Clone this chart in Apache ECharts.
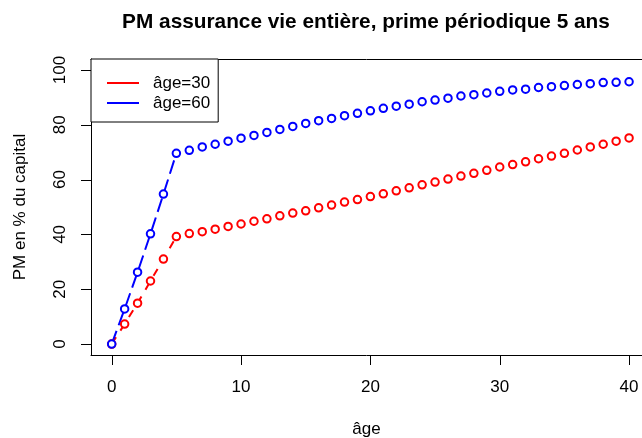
<!DOCTYPE html>
<html>
<head>
<meta charset="utf-8">
<script src="https://cdn.jsdelivr.net/npm/echarts@6/dist/echarts.min.js"></script>
<style>
  html, body { margin: 0; padding: 0; background: #fff; }
  #chart { width: 642px; height: 438px; }
</style>
</head>
<body>
<div id="chart"></div>
<script>
// Durée écoulée (années) depuis la souscription
const annees = [0, 1, 2, 3, 4, 5, 6, 7, 8, 9, 10, 11, 12, 13, 14, 15, 16, 17, 18, 19, 20,
  21, 22, 23, 24, 25, 26, 27, 28, 29, 30, 31, 32, 33, 34, 35, 36, 37, 38, 39, 40];

// Provision mathématique (% du capital), assuré de 30 ans
const pmAge30 = [0, 7.3, 14.9, 23.0, 31.0, 39.2, 40.3, 41.0, 41.9, 42.9, 43.8, 44.8, 45.7,
  46.8, 47.8, 48.6, 49.7, 50.7, 51.8, 52.7, 53.8, 54.8, 55.9, 57.0, 58.1, 59.1, 60.2,
  61.3, 62.3, 63.4, 64.6, 65.5, 66.5, 67.6, 68.6, 69.6, 70.8, 71.9, 72.9, 74.0, 75.2];

// Provision mathématique (% du capital), assuré de 60 ans
const pmAge60 = [0, 12.8, 26.2, 40.2, 54.7, 69.6, 70.7, 71.9, 72.9, 74.0, 75.1, 76.1, 77.2,
  78.3, 79.4, 80.5, 81.5, 82.3, 83.3, 84.2, 85.1, 86.0, 86.8, 87.5, 88.4, 89.0, 89.7,
  90.5, 91.0, 91.6, 92.2, 92.7, 93.0, 93.6, 93.9, 94.3, 94.7, 95.0, 95.4, 95.5, 95.7];

const xTicks = [0, 10, 20, 30, 40];
const yTicks = [0, 20, 40, 60, 80, 100];
const dureePrimes = 5; // années de paiement des primes

const titre = 'PM assurance vie entière, prime périodique 5 ans';
const nomsSeries = ['âge=30', 'âge=60'];
const couleurs = ['#ff0000', '#0000ff'];
const tirets = [[8, 8], [14, 6]];

const font = '"Liberation Sans", Arial, Helvetica, sans-serif';
const paires = (ys) => annees.map((a, i) => [a, ys[i]]);

// étendue des axes (marge de 4 % autour des données ; le cadre déborde à droite)
const xMin = -1.6, xMax = 41.0;
const yMin = -4, yMax = 104;
const longueurTrait = 10;

const series = [];
[pmAge30, pmAge60].forEach((ys, k) => {
  // segments reliant les points pendant la période de paiement des primes
  series.push({
    type: 'line',
    name: nomsSeries[k],
    data: paires(ys).slice(0, dureePrimes + 1),
    showSymbol: false,
    lineStyle: { color: couleurs[k], width: 2, type: tirets[k] },
    itemStyle: { color: couleurs[k] },
    z: 2,
    silent: true,
    animation: false
  });
  // cercles ouverts pour chaque année
  series.push({
    type: 'scatter',
    name: nomsSeries[k],
    data: paires(ys),
    symbol: 'circle',
    symbolSize: 7.5,
    itemStyle: { color: '#ffffff', borderColor: couleurs[k], borderWidth: 2, opacity: 1 },
    z: 3,
    clip: false,
    silent: true,
    animation: false
  });
});

const axeCommun = () => ({
  axisLine: { show: true, onZero: false, lineStyle: { color: '#000', width: 1 } },
  axisTick: { show: false },
  splitLine: { show: false }
});

const chart = echarts.init(document.getElementById('chart'), null, { renderer: 'canvas' });
chart.setOption({
  backgroundColor: '#ffffff',
  animation: false,
  title: {
    text: titre,
    left: 361,
    textAlign: 'center',
    top: 7,
    textStyle: { fontFamily: font, fontSize: 20.8, fontWeight: 'bold', color: '#000' }
  },
  legend: {
    orient: 'vertical',
    left: 91,
    top: 59,
    padding: [14, 8, 9, 16],
    itemGap: 0,
    itemWidth: 32,
    itemHeight: 2,
    backgroundColor: '#ffffff',
    borderColor: '#000000',
    borderWidth: 1,
    borderRadius: 0,
    data: nomsSeries.map((n) => ({ name: n, icon: 'rect' })),
    textStyle: { fontFamily: font, fontSize: 17, color: '#000', lineHeight: 20, padding: [0, 0, 0, 9] },
    selectedMode: false,
    z: 10
  },
  grid: {
    left: 91,
    top: 59,
    right: 0,
    bottom: 83,
    show: false,
    outerBoundsMode: 'none'
  },
  xAxis: [
    Object.assign({
      type: 'value',
      min: xMin,
      max: xMax,
      name: 'âge',
      nameLocation: 'middle',
      nameGap: 66,
      nameTextStyle: { fontFamily: font, fontSize: 17, color: '#000' },
      axisLabel: { customValues: xTicks, margin: 24, fontFamily: font, fontSize: 17, color: '#000' }
    }, axeCommun()),
    {
      // bord supérieur du cadre
      type: 'value',
      position: 'top',
      min: xMin,
      max: xMax,
      axisLine: { show: true, onZero: false, lineStyle: { color: '#000', width: 1 } },
      axisTick: { show: false },
      axisLabel: { show: false },
      splitLine: { show: false }
    }
  ],
  yAxis: Object.assign({
    type: 'value',
    min: yMin,
    max: yMax,
    name: 'PM en % du capital',
    nameLocation: 'middle',
    nameGap: 62,
    nameTextStyle: { fontFamily: font, fontSize: 17, color: '#000' },
    axisLabel: { customValues: yTicks, rotate: 90, margin: 22, fontFamily: font, fontSize: 17, color: '#000' }
  }, axeCommun()),
  series: series
});

// graduations extérieures, placées à partir des échelles des axes
const coinBas = chart.convertToPixel({ gridIndex: 0 }, [xMin, yMin]);
const traits = [];
xTicks.forEach((v) => {
  const p = chart.convertToPixel({ gridIndex: 0 }, [v, yMin]);
  const px = Math.round(p[0]) + 0.5;
  traits.push({
    type: 'line', silent: true, z: 100,
    shape: { x1: px, y1: coinBas[1], x2: px, y2: coinBas[1] + longueurTrait },
    style: { stroke: '#000000', lineWidth: 1 }
  });
});
yTicks.forEach((v) => {
  const p = chart.convertToPixel({ gridIndex: 0 }, [xMin, v]);
  const py = Math.round(p[1]) + 0.5;
  traits.push({
    type: 'line', silent: true, z: 100,
    shape: { x1: coinBas[0] - longueurTrait, y1: py, x2: coinBas[0], y2: py },
    style: { stroke: '#000000', lineWidth: 1 }
  });
});
chart.setOption({ graphic: { elements: traits } });
</script>
</body>
</html>
